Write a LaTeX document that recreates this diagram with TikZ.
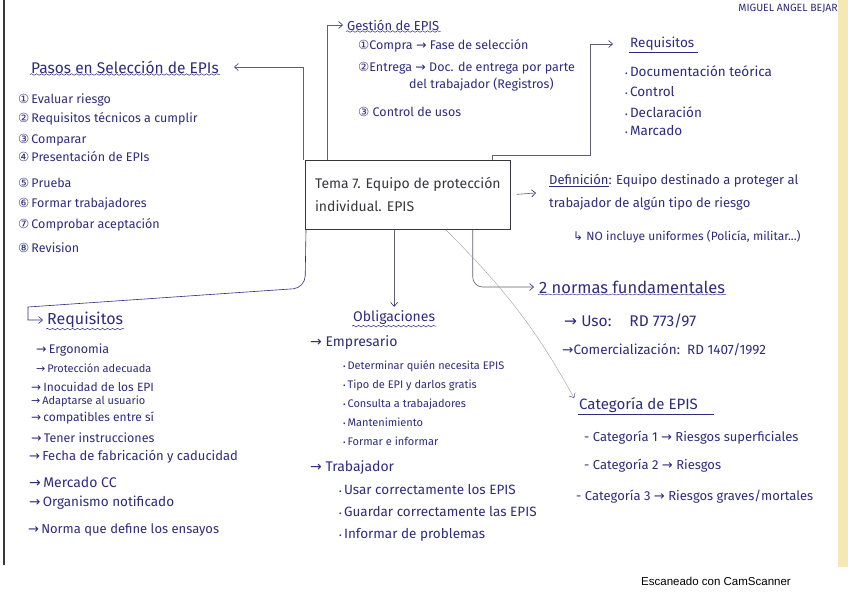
\documentclass[tikz,border=0pt]{standalone}
\usepackage{fontspec}
\setmainfont{Fira Sans}
\newfontfamily\symfont{DejaVu Sans}
\newfontfamily\scanfont{Liberation Sans}
\usepackage{tikz}
\usetikzlibrary{arrows.meta,positioning,calc,decorations.pathmorphing}
\definecolor{inkBlue}{RGB}{46,44,125}
\definecolor{inkDark}{RGB}{55,55,62}
\definecolor{penGray}{RGB}{95,95,112}
\definecolor{paperEdge}{RGB}{246,232,178}
\newcommand{\ra}{{\symfont\char"2192}}
\newcommand{\hook}{{\symfont\char"21B3}}
\newcommand{\bul}{{\footnotesize\textbullet}\,}

\begin{document}
\begin{tikzpicture}[x=1pt, y=-1pt,
    every node/.style={inkBlue, inner sep=1pt},
    hand/.style={anchor=west, font=\fontsize{12.5}{14}\selectfont},
    small/.style={anchor=west, font=\fontsize{11}{13}\selectfont},
    title/.style={anchor=west, font=\fontsize{15.5}{17}\selectfont},
    conn/.style={penGray, line width=0.6pt, -{Straight Barb[length=4pt,width=7pt,color=inkBlue]}},
    wavy/.style={inkBlue, line width=0.5pt, decorate, decoration={snake, amplitude=0.8pt, segment length=5pt}},
    uline/.style={inkBlue, line width=0.5pt}]
    \useasboundingbox (0,0) rectangle (848,599);
    % the scanned sheet
    \fill[white] (0,0) rectangle (848,599);
    \fill[paperEdge] (838,0) rectangle (848,567);
    \draw[inkDark, line width=1.4pt] (4,0) -- (4,565);
    % central topic
    \node[draw=inkDark, line width=0.7pt, inkDark, align=left, anchor=north west, minimum width=205pt, minimum height=69pt, font=\fontsize{14}{23}\selectfont] (tema) at (305,160) {Tema 7. Equipo de protección\\individual. EPIS};
    % headings
    \node[title] (pasos) at (30,67) {Pasos en Selección de EPIs};
    \node[hand, font=\fontsize{13}{15}\selectfont] (gestion) at (346,25) {Gestión de EPIS};
    \node[hand, font=\fontsize{13.5}{15}\selectfont] (reqA) at (629,44) {Requisitos};
    \node[hand, align=left, font=\fontsize{13}{23}\selectfont] (def) at (548,192) {\underline{Definición}: Equipo destinado a proteger al\\trabajador de algún tipo de riesgo};
    \node[hand, font=\fontsize{12}{14}\selectfont] (noinc) at (572,237) {\hook\ NO incluye uniformes (Policía, militar...)};
    \node[title, font=\fontsize{16}{18}\selectfont] (reqB) at (46,320) {Requisitos};
    \node[title, font=\fontsize{14}{16}\selectfont] (oblig) at (352,318) {Obligaciones};
    \node[title, font=\fontsize{16.5}{18}\selectfont] (normas) at (538,287) {2 normas fundamentales};
    \node[title, font=\fontsize{15}{17}\selectfont] (cat) at (578,405) {Categoría de EPIS};
    \node[anchor=east, font=\fontsize{10.5}{12}\selectfont] (autor) at (839,9) {MIGUEL ANGEL BEJAR};
    \node[anchor=west, black, font=\scanfont\fontsize{11.5}{13}\selectfont] (scan) at (640,581) {Escaneado con CamScanner};
    % underlines
    \draw[wavy] (pasos.south west) -- (pasos.south east);
    \draw[wavy] (gestion.south west) -- (gestion.south east);
    \draw[uline] (reqA.south west) -- ([xshift=3pt]reqA.south east);
    \draw[wavy] (reqB.south west) -- (reqB.south east);
    \draw[wavy] (oblig.south west) -- (oblig.south east);
    \draw[wavy, decoration={amplitude=0.5pt, segment length=8pt}] (normas.south west) -- (normas.south east);
    \draw[uline] (cat.south west) -- ([xshift=15pt]cat.south east);
    % steps list
    \foreach \c/\yy/\t [count=\i] in {①/100/Evaluar riesgo, ②/119/Requisitos técnicos a cumplir, ③/140/Comparar, ④/157/Presentación de EPIs, ⑤/183/Prueba, ⑥/204/Formar trabajadores, ⑦/225/Comprobar aceptación, ⑧/248/Revision}
      \node[hand] (p\i) at (17,\yy) {{\symfont\c}\,\t};
    % management
    \node[hand] (g1) at (357,46) {{\symfont①}Compra \ra\ Fase de selección};
    \node[hand] (g2) at (357,68) {{\symfont②}Entrega \ra\ Doc. de entrega por parte};
    \node[hand] (g2b) at (408,85) {del trabajador (Registros)};
    \node[hand] (g3) at (357,112) {{\symfont③}\ Control de usos};
    % documents
    \foreach \yy/\t [count=\i] in {71/Documentación teórica, 92/Control, 112/Declaración, 131/Marcado}
      \node[hand, font=\fontsize{13.5}{15}\selectfont] (d\i) at (624,\yy) {\bul\t};
    % product requirements
    \foreach \xx/\yy/\fs/\t [count=\i] in {35/350/12.5/Ergonomia, 35/368/11/Protección adecuada, 30/387/12/Inocuidad de los EPI, 30/401/11/Adaptarse al usuario, 30/418/12/compatibles entre sí, 30/438/12.5/Tener instrucciones, 28/457/13/Fecha de fabricación y caducidad, 28/482/14/Mercado CC, 28/503/13.5/Organismo notificado, 27/530/13/Norma que define los ensayos}
      \node[anchor=west, font=\fontsize{\fs}{14}\selectfont] (r\i) at (\xx,\yy) {\ra\,\t};
    % duties
    \node[hand, font=\fontsize{14}{16}\selectfont] (emp) at (309,343) {\ra\ Empresario};
    \foreach \yy/\t [count=\i] in {366/Determinar quién necesita EPIS, 385/Tipo de EPI y darlos gratis, 404/Consulta a trabajadores, 422/Mantenimiento, 441/Formar e informar}
      \node[small] (e\i) at (342,\yy) {\bul\t};
    \node[hand, font=\fontsize{14}{16}\selectfont] (trab) at (309,468) {\ra\ Trabajador};
    \foreach \yy/\t [count=\i] in {490/Usar correctamente los EPIS, 512/Guardar correctamente las EPIS, 535/Informar de problemas}
      \node[hand, font=\fontsize{13.5}{15}\selectfont] (t\i) at (338,\yy) {\bul\t};
    % standards
    \node[hand, font=\fontsize{15.5}{17}\selectfont] (n1) at (563,321) {\ra\ Uso:\hspace{18pt}RD 773/97};
    \node[hand, font=\fontsize{13.5}{15}\selectfont] (n2) at (561,350) {\ra Comercialización:\ \ RD 1407/1992};
    % categories
    \foreach \xx/\yy/\t [count=\i] in {583/438/Categoría 1 \ra\ Riesgos superficiales, 583/466/Categoría 2 \ra\ Riesgos, 575/497/Categoría 3 \ra\ Riesgos graves\slash mortales}
      \node[hand, font=\fontsize{13}{15}\selectfont] (c\i) at (\xx,\yy) {- \t};
    % connectors
    \coordinate (k1) at (590,155);
    \coordinate (k2) at (305,288);
    \coordinate (k3) at (28,307);
    \draw[conn, shorten >=14pt] ([xshift=-2pt]tema.north west) |- (pasos.east);
    \draw[conn, shorten >=3pt] ([xshift=22pt]tema.north west) |- (gestion.west);
    \draw[conn, shorten >=16pt] ([xshift=-18pt]tema.north east) |- (k1) |- (reqA.west);
    \draw[conn, shorten <=6pt, shorten >=12pt] (tema.east) -- (def.west);
    \draw[conn, inkBlue, shorten >=3pt] ([xshift=1pt]tema.south west) [rounded corners=12pt] -- (k2) [sharp corners] -- (k3) |- (reqB.west);
    \draw[conn, shorten >=3pt] (tema.south -| oblig.north) -- (oblig.north);
    \draw[conn, rounded corners=10pt, shorten >=4pt] ([xshift=-38pt]tema.south east) |- (normas.west);
    \draw[conn, penGray!60, line width=0.4pt, shorten >=8pt] ([xshift=-65pt]tema.south east) to[bend left=8] (cat.west);
  \end{tikzpicture}
\end{document}
